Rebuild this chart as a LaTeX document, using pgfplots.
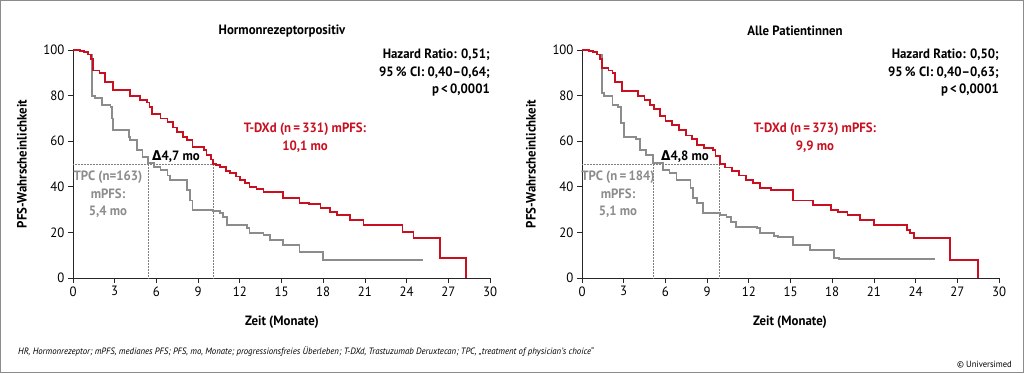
\documentclass[border=0pt]{standalone}
\usepackage{fontspec}
\setmainfont{PT Sans}[FakeStretch=0.95]
\newfontfamily\dejavu{DejaVu Sans}[FakeStretch=0.9]
\usepackage{pgfplots}
\pgfplotsset{compat=1.18}
\definecolor{tred}{RGB}{200,16,32}
\definecolor{tgray}{RGB}{140,140,140}
\pgfplotsset{
  kmstyle/.style={
    scale only axis, width=417pt, height=228pt,
    xmin=0, xmax=30, ymin=0, ymax=100,
    axis x line=bottom, axis y line=left,
    axis line style={-, line width=0.8pt, black!85},
    tick align=outside, major tick length=5pt,
    tick style={line width=0.8pt, black!85},
    xtick={0,3,...,30}, ytick={0,20,...,100},
    tick label style={font=\fontsize{13.5}{15}\selectfont},
    /pgf/number format/assume math mode=true,
    clip=false,
  },
  red line/.style={const plot, color=tred, line width=1.8pt, mark=none, line join=miter},
  gray line/.style={const plot, color=tgray, line width=1.8pt, mark=none, line join=miter},
  med line/.style={densely dotted, color=black!50, line width=0.5pt, mark=none},
}
\begin{document}
\begin{tikzpicture}[x=1pt,y=-1pt]
\useasboundingbox (0,0) rectangle (1024,373);
\draw[black!45, line width=1pt] (0.5,0.5) rectangle (1023.5,372.5);

% ---------- left panel ----------
\begin{axis}[kmstyle, at={(73pt,-278pt)}, anchor=origin]
\addplot[med line] coordinates {(0,50) (10.1,50)};
\addplot[med line] coordinates {(5.4,0) (5.4,50)};
\addplot[med line] coordinates {(10.1,0) (10.1,50)};
\addplot[gray line] coordinates {
(0,100) (0.5,99.5) (0.8,99) (1.1,98) (1.35,80) (1.6,79) (2.1,76) (2.7,75) (2.8,70) (2.9,65)
(4.0,62) (4.1,60.5) (4.6,56) (5.0,53) (5.4,50.4) (5.8,48.7) (6.3,47.4) (6.8,45) (7.0,43)
(8.2,38.6) (8.4,34) (8.6,30) (10.1,29.5) (10.6,28.5) (10.8,26.7) (11.1,23.2) (12.5,22)
(12.7,19.7) (13.7,19) (14.2,16.7) (15.1,14.5) (16.3,11.4) (18.0,7.9) (25.2,7.9)};
\addplot[red line] coordinates {
(0,100) (0.5,99.5) (0.8,99) (1.1,98) (1.3,96) (1.45,91) (1.9,90) (2.3,86) (2.9,82.5)
(4.1,80) (4.8,78) (5.3,77) (5.5,75) (5.7,72) (6.3,70) (6.8,68.5) (7.2,66) (7.5,64)
(7.9,62) (8.2,60.5) (8.6,57.5) (9.4,56) (9.6,54) (9.9,52) (10.1,50) (10.3,49.5)
(10.6,48.7) (11.0,47) (11.3,46) (11.7,44.5) (12.0,43) (12.4,41.5) (12.7,40) (13.2,39)
(13.7,37.8) (15.1,35) (16.3,33) (17.0,32.5) (17.8,30.7) (18.5,29) (19.0,27.6) (19.9,25.4)
(20.9,23.2) (23.7,20.3) (24.5,17.5) (26.4,8.8) (28.3,0)};
\end{axis}

% ---------- right panel ----------
\begin{axis}[kmstyle, at={(582pt,-278pt)}, anchor=origin]
\addplot[med line] coordinates {(0,50) (9.9,50)};
\addplot[med line] coordinates {(5.1,0) (5.1,50)};
\addplot[med line] coordinates {(9.9,0) (9.9,50)};
\addplot[gray line] coordinates {
(0,100) (0.5,99.5) (0.8,99) (1.1,98) (1.45,81) (1.6,80) (2.2,76) (2.6,75) (2.8,68) (3.0,62)
(3.9,61) (4.2,56) (4.6,54) (5.1,50.4) (5.8,47.4) (6.3,46) (6.8,43) (7.8,39.5) (8.0,35)
(8.3,33) (8.7,28.5) (9.9,27.8) (10.4,26.7) (10.7,24.5) (11.1,22.4) (12.6,22) (12.8,19.7)
(13.8,18.5) (14.1,18) (15.2,14.5) (16.4,12.3) (18.1,8.8) (18.5,8.5) (25.3,8.3)};
\addplot[red line] coordinates {
(0,100) (0.5,99.5) (0.8,99) (1.1,98) (1.3,96) (1.45,92) (1.9,91) (2.2,90) (2.4,86) (2.9,82)
(4.0,80) (4.5,78) (4.9,76) (5.2,74) (5.6,71) (6.0,69) (6.5,67) (7.0,65) (7.5,62.5) (7.9,61)
(8.3,58.5) (8.8,57) (9.4,56) (9.6,53.5) (9.9,50) (10.3,48.5) (10.8,47) (11.3,45) (11.8,43)
(12.3,41.5) (12.8,39.5) (13.6,38.7) (15.2,34) (16.6,32) (17.9,30) (18.4,29) (19.1,27.5)
(20.0,25.4) (21.0,23.2) (23.4,21) (23.6,19.9) (23.9,17.5) (26.5,7.9) (28.5,0)};
\end{axis}

% ---------- texts ----------
\tikzset{bt/.style={font=\fontsize{13.5}{17.5}\selectfont\bfseries, inner sep=0pt}}
% titles
\node[bt] at (282,31) {Hormonrezeptorpositiv};
\node[bt] at (795,31) {Alle Patientinnen};
% axis labels
\node[bt, rotate=90] at (22,164) {PFS-Wahrscheinlichkeit};
\node[bt, rotate=90] at (531,164) {PFS-Wahrscheinlichkeit};
\node[bt] at (282,322) {Zeit (Monate)};
\node[bt] at (790,322) {Zeit (Monate)};
% HR
\node[bt, anchor=north east, align=right] at (490,49) {Hazard Ratio: 0,51;\\95\,\% CI: 0,40--0,64;\\p\,<\,0,0001};
\node[bt, anchor=north east, align=right] at (999,49) {Hazard Ratio: 0,50;\\95\,\% CI: 0,40--0,63;\\p\,<\,0,0001};
% red
\node[bt, text=tred, align=center, anchor=north] at (305,123) {T-DXd (n\,=\,331) mPFS:\\10,1 mo};
\node[bt, text=tred, align=center, anchor=north] at (815,123) {T-DXd (n\,=\,373) mPFS:\\9,9 mo};
% delta
\node[bt] at (176,157) {{\dejavu Δ}4,7 mo};
\node[bt] at (685,157) {{\dejavu Δ}4,8 mo};
% gray
\node[bt, text=tgray, align=center, anchor=north] at (108,171) {TPC (n=163)\\mPFS:\\5,4 mo};
\node[bt, text=tgray, align=center, anchor=north] at (618,171) {TPC (n\,=\,184)\\mPFS:\\5,1 mo};
% footnote
\node[anchor=west, inner sep=0pt, font=\fontsize{9.2}{11}\selectfont\itshape] at (18,352)
 {HR, Hormonrezeptor; mPFS, medianes PFS; PFS, mo, Monate; progressionsfreies Überleben; T-DXd, Trastuzumab Deruxtecan; TPC, „treatment of physician’s choice“};
\node[anchor=east, inner sep=0pt, font=\fontsize{9}{11}\selectfont] at (1012,365) {© Universimed};
\end{tikzpicture}
\end{document}
